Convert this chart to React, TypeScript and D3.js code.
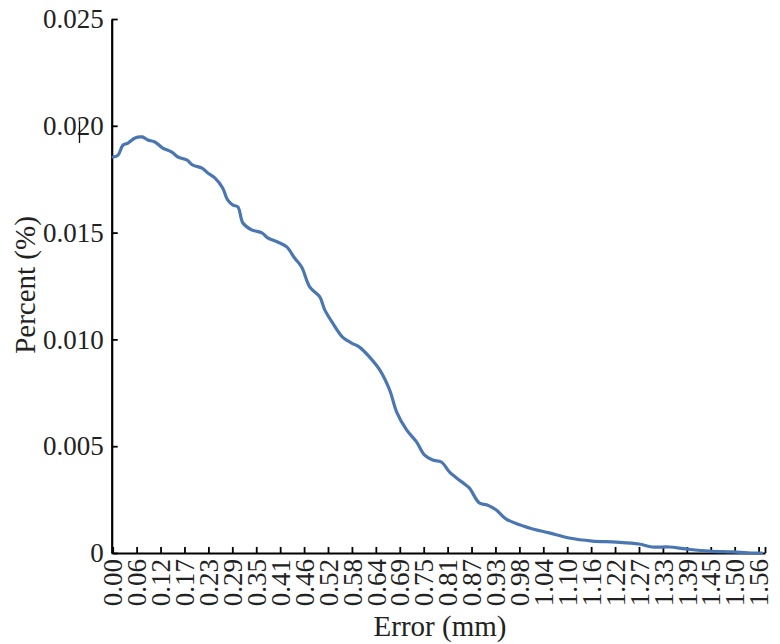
import React, { useEffect, useRef } from 'react';
import * as d3 from 'd3';

// error (mm) vs percent
const errX = [
  0.001, 0.013, 0.025, 0.037, 0.054, 0.071, 0.085, 0.102, 0.121, 0.143,
  0.158, 0.179, 0.194, 0.216, 0.230, 0.247, 0.266, 0.278, 0.291, 0.303,
  0.315, 0.336, 0.361, 0.375, 0.399, 0.421, 0.440, 0.457, 0.477, 0.501,
  0.513, 0.532, 0.556, 0.578, 0.597, 0.621, 0.646, 0.670, 0.687, 0.711,
  0.735, 0.754, 0.774, 0.795, 0.815, 0.832, 0.851, 0.863, 0.887, 0.906,
  0.928, 0.952, 1.008, 1.056, 1.104, 1.160, 1.218, 1.273, 1.305, 1.346,
  1.387, 1.443, 1.498, 1.546, 1.570,
];
const pct = [
  0.01854, 0.01863, 0.0191, 0.01919, 0.01943, 0.01948, 0.01934, 0.01924, 0.01896, 0.01877,
  0.01854, 0.0184, 0.01816, 0.01802, 0.01779, 0.01756, 0.01709, 0.01653, 0.01629, 0.0162,
  0.01545, 0.01513, 0.01499, 0.01475, 0.01456, 0.01433, 0.01381, 0.01339, 0.01245, 0.01199,
  0.01138, 0.01077, 0.01011, 0.00983, 0.00964, 0.00918, 0.00857, 0.00763, 0.0066, 0.00576,
  0.0052, 0.00459, 0.00435, 0.00426, 0.00379, 0.00351, 0.00323, 0.00304, 0.00234, 0.00225,
  0.00201, 0.00159, 0.00117, 0.00094, 0.0007, 0.00056, 0.00051, 0.00042, 0.00028, 0.00028,
  0.00019, 0.00009, 0.00005, 0.0, 0.0,
];

const xTickLabels = [
  '0.00', '0.06', '0.12', '0.17', '0.23', '0.29', '0.35', '0.41', '0.46', '0.52',
  '0.58', '0.64', '0.69', '0.75', '0.81', '0.87', '0.93', '0.98', '1.04', '1.10',
  '1.16', '1.22', '1.27', '1.33', '1.39', '1.45', '1.50', '1.56',
];
const yTicks = [0, 0.005, 0.01, 0.015, 0.02, 0.025];
const yTickLabels = ['0', '0.005', '0.010', '0.015', '0.020', '0.025'];

const X_STEP = 1.5625 / 27;
const X_MAX = 1.578;
const FONT = "'Liberation Serif', 'Times New Roman', 'DejaVu Serif', serif";

const App: React.FC = () => {
  const svgRef = useRef<SVGSVGElement | null>(null);

  useEffect(() => {
    if (!svgRef.current) return;
    const svg = d3.select(svgRef.current);
    svg.selectAll('*').remove();

    const x = d3.scaleLinear().domain([0, X_MAX]).range([112.7, 765]);
    const y = d3.scaleLinear().domain([0, 0.025]).range([553, 19]);

    // x axis, ticks pointing inward, labels rotated
    const xTickVals = xTickLabels.map((_, i) => i * X_STEP).concat([X_MAX]);
    const xAxis = svg.append('g')
      .attr('transform', `translate(0,${y(0)})`)
      .call(d3.axisBottom(x)
        .tickValues(xTickVals)
        .tickSize(-6)
        .tickSizeOuter(0)
        .tickFormat((_, i) => xTickLabels[i] ?? ''));
    xAxis.attr('font-family', FONT).attr('font-size', 27);
    xAxis.select('.domain').attr('stroke-width', 2.2);
    xAxis.selectAll('.tick line').attr('stroke-width', 1.8);
    xAxis.selectAll('.tick text')
      .attr('transform', 'rotate(-90)')
      .attr('x', -6)
      .attr('y', 0)
      .attr('dy', '0.34em')
      .attr('text-anchor', 'end')
      .attr('fill', '#222');

    // y axis
    const yAxis = svg.append('g')
      .attr('transform', `translate(${x(0) - 1},0)`)
      .call(d3.axisLeft(y)
        .tickValues(yTicks)
        .tickSize(-6)
        .tickSizeOuter(0)
        .tickPadding(8)
        .tickFormat((_, i) => yTickLabels[i]));
    yAxis.attr('font-family', FONT).attr('font-size', 27);
    yAxis.select('.domain').attr('stroke-width', 2.2);
    yAxis.selectAll('.tick line').attr('stroke-width', 1.8);
    yAxis.selectAll('.tick text').attr('fill', '#222');

    // the stray vertical mark in "0.0|20"
    svg.append('line')
      .attr('x1', 79.5).attr('x2', 79.5)
      .attr('y1', 121).attr('y2', 143)
      .attr('stroke', '#111').attr('stroke-width', 1.3);

    // curve
    const pts = errX.map((v, i) => [v, pct[i]] as [number, number]);
    const line = d3.line<[number, number]>()
      .x(d => x(d[0]))
      .y(d => y(d[1]))
      .curve(d3.curveCatmullRom.alpha(0.5));
    svg.append('path')
      .datum(pts)
      .attr('d', line)
      .attr('fill', 'none')
      .attr('stroke', '#4a76b2')
      .attr('stroke-width', 3.2)
      .attr('stroke-linejoin', 'round')
      .attr('stroke-linecap', 'round');

    // axis titles
    svg.append('text')
      .attr('x', 440)
      .attr('y', 636)
      .attr('text-anchor', 'middle')
      .attr('font-family', FONT)
      .attr('font-size', 29)
      .attr('fill', '#222')
      .text('Error (mm)');

    svg.append('text')
      .attr('transform', 'translate(35,285) rotate(-90)')
      .attr('text-anchor', 'middle')
      .attr('font-family', FONT)
      .attr('font-size', 29)
      .attr('fill', '#222')
      .text('Percent (%)');
  }, []);

  return (
    <svg
      ref={svgRef}
      width={780}
      height={644}
      viewBox="0 0 780 644"
      style={{ position: 'absolute', left: 0, top: 0, background: '#fff' }}
    />
  );
};

export default App;
